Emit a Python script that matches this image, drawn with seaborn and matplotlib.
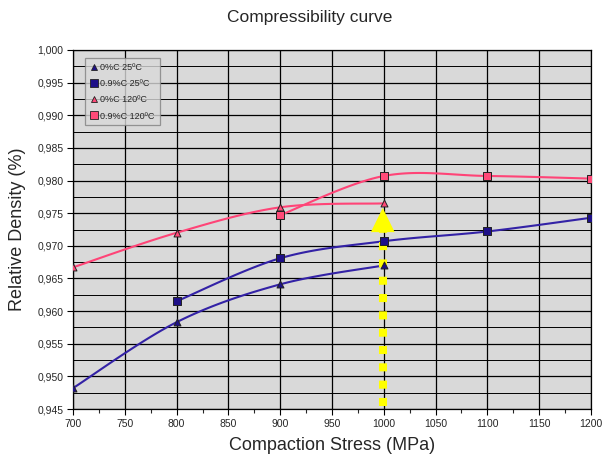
import numpy as np
import pandas as pd
import matplotlib
matplotlib.use("Agg")
import matplotlib.pyplot as plt
import seaborn as sns
from matplotlib.lines import Line2D
from matplotlib.ticker import MultipleLocator, FuncFormatter

sns.set_style("white")
plt.rcParams['font.family'] = ['Liberation Sans', 'DejaVu Sans']

# Data
stress_a = [700, 800, 900, 1000]
dens_0C_25 = [0.9482, 0.9583, 0.9641, 0.9670]
stress_b = [800, 900, 1000, 1100, 1200]
dens_09C_25 = [0.9615, 0.9681, 0.9707, 0.9722, 0.9743]
stress_c = [700, 800, 900, 1000]
dens_0C_120 = [0.9667, 0.9720, 0.9759, 0.9765]
stress_d = [900, 1000, 1100, 1200]
dens_09C_120 = [0.9747, 0.9807, 0.9807, 0.9803]
labels = ["0%C 25ºC", "0.9%C 25ºC", "0%C 120ºC", "0.9%C 120ºC"]

arrow_x = 999
arrow_y0, arrow_base, arrow_y1 = 0.9454, 0.9721, 0.9758

navy_line = "#3322A6"
navy_mark = "#1E1088"
pink_line = "#FF4477"
pink_mark = "#FF4A78"


def smooth(xs, ys, n=30):
    xs = np.asarray(xs, float); ys = np.asarray(ys, float)
    P = np.column_stack([xs, ys])
    Pext = np.vstack([P[0], P, P[-1]])
    out = []
    t = np.linspace(0, 1, n)[:, None]
    for i in range(len(P) - 1):
        p0, p1, p2, p3 = Pext[i], Pext[i + 1], Pext[i + 2], Pext[i + 3]
        b1 = p1 + (p2 - p0) / 6
        b2 = p2 - (p3 - p1) / 6
        seg = ((1 - t) ** 3) * p1 + 3 * ((1 - t) ** 2) * t * b1 + 3 * (1 - t) * t ** 2 * b2 + t ** 3 * p2
        out.append(seg if i == 0 else seg[1:])
    s = np.vstack(out)
    return s[:, 0], s[:, 1]


fig = plt.figure(figsize=(6.02, 4.65), dpi=100)
ax = fig.add_axes([0.1213, 0.1204, 0.8604, 0.7721])
ax.set_facecolor("#D9D9D9")

series = [
    (stress_a, dens_0C_25, navy_line, navy_mark, "^", 5),
    (stress_b, dens_09C_25, navy_line, navy_mark, "s", 6),
    (stress_c, dens_0C_120, pink_line, pink_mark, "^", 5),
    (stress_d, dens_09C_120, pink_line, pink_mark, "s", 6),
]
for xs, ys, lc, mc, m, ms in series:
    sx, sy = smooth(xs, ys)
    df = pd.DataFrame({"x": sx, "y": sy})
    sns.lineplot(data=df, x="x", y="y", ax=ax, color=lc, lw=1.5, sort=False,
                 estimator=None, zorder=3)

# yellow dashed arrow
ax.plot([arrow_x, arrow_x], [arrow_y0, arrow_base], color="#FFFF00", lw=5.8,
        dashes=(1.0, 1.15), solid_capstyle="butt", zorder=4)
ax.fill([arrow_x - 11.5, arrow_x + 11.5, arrow_x], [arrow_base, arrow_base, arrow_y1],
        color="#FFFF00", zorder=4, lw=0)

for xs, ys, lc, mc, m, ms in series:
    df = pd.DataFrame({"x": xs, "y": ys})
    sns.scatterplot(data=df, x="x", y="y", ax=ax, marker=m, s=ms ** 2,
                    color=mc, edgecolor="#222222", linewidth=0.7, zorder=5)

ax.set_xlim(700, 1200)
ax.set_ylim(0.945, 1.000)
ax.xaxis.set_major_locator(MultipleLocator(50))
ax.xaxis.set_minor_locator(MultipleLocator(25))
ax.yaxis.set_major_locator(MultipleLocator(0.005))
ax.yaxis.set_minor_locator(MultipleLocator(0.0025))
ax.yaxis.set_major_formatter(FuncFormatter(lambda v, p: f"{v:.3f}".replace(".", ",")))
ax.grid(which="major", axis="both", color="black", lw=0.9)
ax.grid(which="minor", axis="y", color="black", lw=0.7)
ax.set_axisbelow(True)
ax.tick_params(axis="both", which="major", labelsize=7.5, direction="out",
               length=4, width=0.8, left=True, bottom=True, color="black", pad=3)
ax.tick_params(axis="x", which="minor", direction="out", length=3, width=0.8, bottom=True)
ax.tick_params(axis="y", which="minor", length=0)
for s in ax.spines.values():
    s.set_color("black"); s.set_linewidth(0.9)

ax.set_xlabel("Compaction Stress (MPa)", fontsize=13, labelpad=6)
ax.set_ylabel("Relative Density (%)", fontsize=13, labelpad=8)
fig.text(0.514, 0.952, "Compressibility curve", ha="center", fontsize=12.5)

handles = [Line2D([], [], ls="none", marker=m, color=mc, markeredgecolor="#222222",
                  markersize=ms, markeredgewidth=0.6)
           for (_, _, _, mc, m, ms) in series]
leg = ax.legend(handles, labels, loc="upper left", bbox_to_anchor=(0.023, 0.978),
                fontsize=6.5, frameon=True, fancybox=False, handlelength=0.8,
                handletextpad=0.35, borderpad=0.55, labelspacing=0.8, borderaxespad=0)
leg.get_frame().set_facecolor("#D9D9D9")
leg.get_frame().set_edgecolor("#808080")
leg.get_frame().set_linewidth(0.9)
leg.set_zorder(10)

fig.savefig("out.png", dpi=100)
